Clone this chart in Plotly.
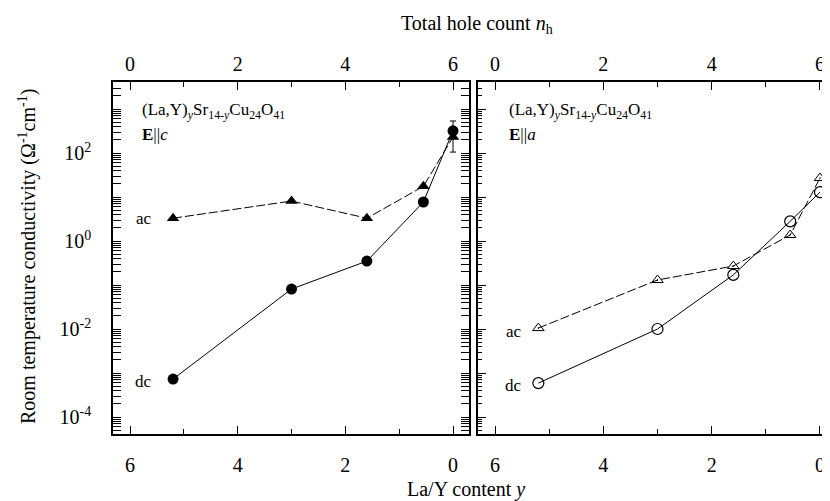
import plotly.graph_objects as go

# La/Y content y for the five samples
y_content = [5.2, 3.0, 1.6, 0.55, 0.0]

# E || c (left panel), filled symbols
ac_c = [3.3, 8.1, 3.3, 17.5, 230]
dc_c = [7.3e-4, 0.081, 0.35, 7.7, 320]
dc_c_err = [0, 0, 0, 0, 215]

# E || a (right panel), open symbols
ac_a = [0.0105, 0.13, 0.27, 1.37, 27]
dc_a = [5.9e-4, 0.01, 0.17, 2.8, 12.9]

x_major = [0, 2, 4, 6]
x_minor = [1, 3, 5]
y_major = [10.0 ** k for k in range(-4, 4)]
y_ticktext = ["10<sup>-4</sup>", "", "10<sup>-2</sup>", "", "10<sup>0</sup>", "", "10<sup>2</sup>", ""]
y_minor = [m * 10.0 ** k for k in range(-5, 4) for m in range(2, 10)]

OFF = 8  # page body margin
W, H = 830 - OFF, 501 - OFF
FONT = "Liberation Serif"

def px_x(p):
    return (p - OFF) / W

def px_y(p):
    return 1 - (p - OFF) / H

ydom = [px_y(434), px_y(82)]
left_dom = [px_x(113), px_x(469)]
right_dom = [px_x(478), 1.0]
yrange = [-4.386, 3.614]

fig = go.Figure()

dash = "9px,3px"
# Left panel
fig.add_trace(go.Scatter(x=y_content, y=ac_c, mode="lines+markers", xaxis="x", yaxis="y",
                         line=dict(color="black", width=1, dash=dash),
                         marker=dict(symbol="triangle-up", size=11, color="black"),
                         showlegend=False, cliponaxis=False))
fig.add_trace(go.Scatter(x=y_content, y=dc_c, mode="lines+markers", xaxis="x", yaxis="y",
                         line=dict(color="black", width=1),
                         marker=dict(symbol="circle", size=11, color="black"),
                         error_y=dict(type="data", array=dc_c_err, color="black", thickness=1, width=3),
                         showlegend=False, cliponaxis=False))
# Right panel
fig.add_trace(go.Scatter(x=y_content, y=ac_a, mode="lines+markers", xaxis="x2", yaxis="y2",
                         line=dict(color="black", width=1, dash=dash),
                         marker=dict(symbol="triangle-up-open-dot", size=10, color="black",
                                     line=dict(width=1, color="black")),
                         showlegend=False, cliponaxis=False))
fig.add_trace(go.Scatter(x=y_content, y=dc_a, mode="lines+markers", xaxis="x2", yaxis="y2",
                         line=dict(color="black", width=1),
                         marker=dict(symbol="circle-open", size=11, color="black",
                                     line=dict(width=1.2, color="black")),
                         showlegend=False, cliponaxis=False))

# Empty traces to activate the overlay axes
for xa, ya in [("x3", "y"), ("x4", "y2"), ("x2", "y3")]:
    fig.add_trace(go.Scatter(x=[], y=[], xaxis=xa, yaxis=ya, showlegend=False, hoverinfo="skip"))

tickfont = dict(family=FONT, size=20, color="black")
common_x = dict(tickmode="array", tickvals=x_major, ticks="inside", ticklen=8, tickwidth=1.2,
                tickcolor="black", tickfont=tickfont, showgrid=False, zeroline=False,
                minor=dict(tickvals=x_minor, ticks="inside", ticklen=5, tickwidth=1.2, tickcolor="black", showgrid=False))

fig.update_layout(
    width=W, height=H, margin=dict(l=0, r=0, t=0, b=0),
    paper_bgcolor="white", plot_bgcolor="white",
    xaxis=dict(domain=left_dom, range=[6.316, -0.297], anchor="y", showline=True, linewidth=1.5,
               linecolor="black", mirror=True, ticklabelstandoff=12, **common_x),
    xaxis2=dict(domain=right_dom, range=[6.314, -0.185], anchor="y2", showline=True, linewidth=1.5,
                linecolor="black", mirror=True, ticklabelstandoff=12, **common_x),
    xaxis3=dict(overlaying="x", side="top", anchor="y", range=[-0.316, 6.297], showline=False,
                ticklabelstandoff=6, **common_x),
    xaxis4=dict(overlaying="x2", side="top", anchor="y2", range=[-0.314, 6.185], showline=False,
                ticklabelstandoff=6, **common_x),
    yaxis=dict(domain=ydom, type="log", range=yrange, anchor="x", showline=True, linewidth=1.5,
               linecolor="black", mirror="allticks", tickmode="array", tickvals=y_major, ticktext=y_ticktext,
               ticks="inside", ticklen=8, tickwidth=1.2, tickcolor="black", tickfont=tickfont,
               ticklabelstandoff=16, showgrid=False, zeroline=False,
               minor=dict(tickvals=y_minor, ticks="inside", ticklen=4, tickwidth=1, tickcolor="black", showgrid=False)),
    yaxis2=dict(domain=ydom, type="log", range=yrange, anchor="x2", showline=True, linewidth=1.5,
                linecolor="black", mirror=False, tickmode="array", tickvals=y_major,
                showticklabels=False, ticks="inside", ticklen=8, tickwidth=1.2, tickcolor="black",
                showgrid=False, zeroline=False,
                minor=dict(tickvals=y_minor, ticks="inside", ticklen=4, tickwidth=1, tickcolor="black", showgrid=False)),
    yaxis3=dict(overlaying="y2", side="right", anchor="x2", type="log", range=yrange, showline=False,
                tickmode="array", tickvals=y_major, showticklabels=False, ticks="inside", ticklen=3,
                tickwidth=1.2, tickcolor="black", showgrid=False, zeroline=False),
)

ann_font = dict(family=FONT, size=17, color="black")
title_font = dict(family=FONT, size=20, color="black")
annotations = [
    dict(x=px_x(140), y=px_y(111), text="(La,Y)<sub><i>y</i></sub>Sr<sub>14-<i>y</i></sub>Cu<sub>24</sub>O<sub>41</sub>",
         xanchor="left", yanchor="middle", font=ann_font),
    dict(x=px_x(140), y=px_y(134), text="<b>E</b>||<i>c</i>", xanchor="left", yanchor="middle", font=ann_font),
    dict(x=px_x(507), y=px_y(111), text="(La,Y)<sub><i>y</i></sub>Sr<sub>14-<i>y</i></sub>Cu<sub>24</sub>O<sub>41</sub>",
         xanchor="left", yanchor="middle", font=ann_font),
    dict(x=px_x(507), y=px_y(134), text="<b>E</b>||<i>a</i>", xanchor="left", yanchor="middle", font=ann_font),
    dict(x=px_x(154), y=px_y(218), text="ac", xanchor="right", yanchor="middle", font=ann_font),
    dict(x=px_x(154), y=px_y(381), text="dc", xanchor="right", yanchor="middle", font=ann_font),
    dict(x=px_x(524), y=px_y(331), text="ac", xanchor="right", yanchor="middle", font=ann_font),
    dict(x=px_x(524), y=px_y(385), text="dc", xanchor="right", yanchor="middle", font=ann_font),
    dict(x=px_x(477), y=px_y(24), text="Total hole count <i>n</i><sub>h</sub>", xanchor="center", yanchor="middle", font=title_font),
    dict(x=px_x(466), y=px_y(489), text="La/Y content <i>y</i>", xanchor="center", yanchor="middle", font=title_font),
    dict(x=px_x(28), y=px_y(257), text="Room temperature conductivity (Ω<sup>-1</sup>cm<sup>-1</sup>)",
         textangle=-90, xanchor="center", yanchor="middle", font=title_font),
]
for a in annotations:
    a.update(xref="paper", yref="paper", showarrow=False)
fig.update_layout(annotations=annotations)

fig.write_html("out.html")
